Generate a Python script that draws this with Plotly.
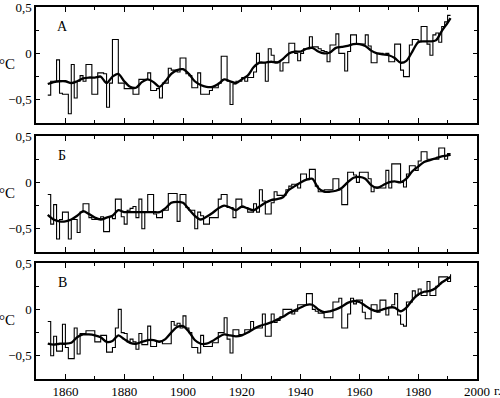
import plotly.graph_objects as go

years = list(range(1854, 1992))

annual_a = [
    -0.45, -0.30, -0.30, -0.07, -0.43, -0.44,
    -0.44, -0.65, -0.12, -0.48, -0.30, -0.24, -0.30, -0.12, -0.12, -0.44,
    -0.44, -0.21, -0.21, -0.22, -0.58, -0.32, 0.15, 0.15, -0.32, -0.32,
    -0.38, -0.38, -0.38, -0.44, -0.44, -0.28, -0.28, -0.28, -0.21, -0.40,
    -0.40, -0.38, -0.48, -0.32, -0.32, -0.16, -0.18, -0.18, -0.20, -0.05,
    -0.05, -0.22, -0.24, -0.37, -0.37, -0.21, -0.44, -0.44, -0.44, -0.40,
    -0.37, -0.37, -0.32, -0.03, -0.03, -0.30, -0.55, -0.33, -0.30, -0.30,
    -0.26, -0.30, -0.26, -0.26, -0.20, 0.00, -0.10, -0.10, -0.30, 0.05,
    -0.02, -0.09, -0.09, -0.19, -0.10, -0.10, 0.11, 0.11, 0.00, -0.08,
    0.00, 0.05, 0.05, 0.18, 0.07, 0.07, 0.05, 0.03, 0.02, -0.09,
    0.09, 0.09, 0.21, 0.00, 0.00, -0.19, 0.02, 0.20, 0.20, 0.10,
    0.10, 0.10, 0.20, 0.08, -0.10, -0.10, 0.00, 0.00, -0.01, 0.00,
    -0.09, -0.09, 0.10, 0.10, -0.18, -0.25, -0.25, 0.09, 0.15, 0.15,
    0.13, 0.29, 0.29, 0.10, -0.02, 0.20, 0.22, 0.12, 0.29, 0.34,
    0.41, 0.41,
]

annual_b = [
    -0.13, -0.45, -0.24, -0.61, -0.40, -0.32,
    -0.32, -0.61, -0.40, -0.40, -0.54, -0.32, -0.23, -0.23, -0.38, -0.40,
    -0.40, -0.40, -0.37, -0.53, -0.53, -0.37, -0.39, -0.18, -0.18, -0.37,
    -0.45, -0.30, -0.28, -0.26, -0.38, -0.18, -0.50, -0.32, -0.13, -0.13,
    -0.34, -0.38, -0.38, -0.30, -0.30, -0.12, -0.12, -0.12, -0.42, -0.13,
    -0.13, -0.27, -0.30, -0.30, -0.50, -0.32, -0.36, -0.45, -0.45, -0.38,
    -0.38, -0.38, -0.18, -0.13, -0.13, -0.27, -0.27, -0.38, -0.18, -0.18,
    -0.27, -0.27, -0.32, -0.32, -0.23, -0.32, -0.08, -0.20, -0.34, -0.34,
    -0.22, -0.10, -0.14, -0.14, -0.14, -0.08, -0.04, -0.02, -0.02, -0.06,
    0.09, 0.09, 0.03, 0.14, 0.14, -0.04, -0.10, -0.10, -0.08, -0.08,
    -0.08, 0.04, 0.04, -0.08, -0.24, -0.24, 0.11, 0.11, 0.08, 0.00,
    0.11, 0.11, 0.11, 0.04, -0.10, -0.05, -0.05, -0.06, -0.06, 0.13,
    -0.06, 0.20, 0.20, 0.20, 0.00, -0.05, 0.09, 0.18, 0.18, 0.13,
    0.23, 0.33, 0.33, 0.25, 0.25, 0.25, 0.25, 0.37, 0.37, 0.25,
    0.31, 0.31,
]

annual_c = [
    -0.13, -0.50, -0.29, -0.45, -0.45, -0.16,
    -0.41, -0.53, -0.53, -0.20, -0.48, -0.26, -0.26, -0.23, -0.23, -0.23,
    -0.35, -0.35, -0.28, -0.28, -0.46, -0.46, -0.41, -0.20, 0.00, -0.25,
    -0.26, -0.35, -0.32, -0.35, -0.43, -0.26, -0.38, -0.38, -0.18, -0.40,
    -0.40, -0.34, -0.34, -0.37, -0.37, -0.37, -0.13, -0.17, -0.15, -0.20,
    -0.07, -0.20, -0.25, -0.41, -0.41, -0.47, -0.28, -0.40, -0.40, -0.40,
    -0.36, -0.36, -0.25, -0.25, -0.09, -0.32, -0.47, -0.22, -0.22, -0.27,
    -0.27, -0.22, -0.22, -0.13, -0.20, -0.20, -0.20, -0.05, -0.29, -0.29,
    -0.05, -0.14, -0.12, -0.08, 0.00, 0.00, 0.00, -0.05, -0.02, 0.05,
    0.05, 0.05, 0.17, 0.17, 0.00, -0.02, -0.04, -0.04, -0.09, -0.09,
    -0.09, 0.08, 0.08, 0.12, -0.20, -0.20, -0.05, 0.12, 0.06, 0.10,
    0.10, -0.03, -0.10, -0.10, 0.05, 0.05, -0.03, 0.10, 0.10, -0.06,
    0.02, 0.05, 0.17, -0.06, -0.16, -0.18, 0.08, 0.08, 0.20, 0.15,
    0.22, 0.15, 0.15, 0.30, 0.15, 0.15, 0.25, 0.35, 0.35, 0.35,
    0.30, 0.38,
]

smooth_years = [1854, 1856, 1858, 1860, 1862, 1864, 1866, 1868, 1870, 1872,
                1874, 1876, 1878, 1880, 1882, 1884, 1886, 1888, 1890, 1892,
                1894, 1896, 1898, 1900, 1902, 1904, 1906, 1908, 1910, 1912,
                1914, 1916, 1918, 1920, 1922, 1924, 1926, 1928, 1930, 1932,
                1934, 1936, 1938, 1940, 1942, 1944, 1946, 1948, 1950, 1952,
                1954, 1956, 1958, 1960, 1962, 1964, 1966, 1968, 1970, 1972,
                1974, 1976, 1978, 1980, 1982, 1984, 1986, 1988, 1990, 1991]

smooth_a = [-0.33, -0.31, -0.30, -0.30, -0.32, -0.30, -0.27, -0.26, -0.26, -0.25,
            -0.32, -0.25, -0.22, -0.30, -0.36, -0.37, -0.31, -0.28, -0.31, -0.36,
            -0.30, -0.22, -0.18, -0.17, -0.22, -0.30, -0.34, -0.36, -0.36, -0.33,
            -0.28, -0.30, -0.32, -0.28, -0.24, -0.15, -0.10, -0.10, -0.09, -0.10,
            -0.06, 0.00, 0.02, 0.02, 0.05, 0.06, 0.02, 0.00, 0.01, 0.06,
            0.07, 0.08, 0.10, 0.10, 0.08, 0.03, 0.00, -0.01, -0.02, -0.05,
            -0.10, -0.08, 0.02, 0.12, 0.13, 0.13, 0.14, 0.24, 0.33, 0.38]

smooth_b = [-0.35, -0.40, -0.42, -0.42, -0.40, -0.36, -0.31, -0.34, -0.38, -0.40,
            -0.38, -0.36, -0.30, -0.32, -0.32, -0.32, -0.32, -0.32, -0.32, -0.32,
            -0.28, -0.22, -0.21, -0.22, -0.29, -0.36, -0.40, -0.37, -0.33, -0.28,
            -0.25, -0.27, -0.30, -0.26, -0.28, -0.30, -0.26, -0.22, -0.19, -0.18,
            -0.16, -0.08, -0.04, 0.00, 0.03, 0.04, -0.06, -0.10, -0.10, -0.09,
            -0.06, 0.00, 0.05, 0.06, 0.04, -0.03, -0.06, -0.03, 0.00, 0.01,
            0.00, 0.04, 0.12, 0.17, 0.22, 0.24, 0.26, 0.28, 0.29, 0.30]

smooth_c = [-0.37, -0.38, -0.37, -0.37, -0.36, -0.30, -0.27, -0.27, -0.28, -0.30,
            -0.35, -0.34, -0.28, -0.32, -0.36, -0.37, -0.35, -0.33, -0.33, -0.35,
            -0.32, -0.25, -0.19, -0.18, -0.24, -0.33, -0.37, -0.37, -0.34, -0.30,
            -0.27, -0.28, -0.29, -0.28, -0.25, -0.21, -0.18, -0.16, -0.14, -0.11,
            -0.08, -0.04, -0.01, 0.02, 0.05, 0.05, 0.00, -0.03, -0.02, 0.00,
            0.03, 0.07, 0.09, 0.08, 0.04, 0.00, -0.02, 0.00, 0.02, 0.02,
            -0.02, 0.02, 0.10, 0.16, 0.19, 0.20, 0.23, 0.29, 0.33, 0.35]

panel_letters = ["А", "Б", "В"]
x_tick_vals = [1860, 1880, 1900, 1920, 1940, 1960, 1980, 2000]
x_tick_text = ["1860", "1880", "1900", "1920", "1940", "1960", "1980", "2000"]
y_tick_vals = [-0.5, 0, 0.5]
y_tick_text = ["\u22120,5", "0", "0,5"]

SERIF = "Liberation Serif"
W, H = 500, 398
ML, MR, MT, MB = 36, 23, 7, 19
plot_h = H - MT - MB
panel_px = [(7, 123), (136, 252), (263, 379)]

fig = go.Figure()
annuals = [annual_a, annual_b, annual_c]
smooths = [smooth_a, smooth_b, smooth_c]

for i in range(3):
    xa = "x" if i == 0 else f"x{i+1}"
    ya = "y" if i == 0 else f"y{i+1}"
    fig.add_trace(go.Scatter(x=years, y=annuals[i], mode="lines",
                             line=dict(color="black", width=1.1, shape="hv"),
                             xaxis=xa, yaxis=ya, showlegend=False, hoverinfo="skip"))
    fig.add_trace(go.Scatter(x=smooth_years, y=smooths[i], mode="lines",
                             line=dict(color="black", width=2.3, shape="spline", smoothing=0.8),
                             xaxis=xa, yaxis=ya, showlegend=False, hoverinfo="skip"))

layout = dict(width=W, height=H, margin=dict(l=ML, r=MR, t=MT, b=MB),
              paper_bgcolor="white", plot_bgcolor="white",
              font=dict(family=SERIF, size=13, color="black"),
              showlegend=False)

for i, (top, bot) in enumerate(panel_px):
    d0 = (H - MB - bot) / plot_h
    d1 = (H - MB - top) / plot_h
    xkey = "xaxis" if i == 0 else f"xaxis{i+1}"
    ykey = "yaxis" if i == 0 else f"yaxis{i+1}"
    ya = "y" if i == 0 else f"y{i+1}"
    xa = "x" if i == 0 else f"x{i+1}"
    layout[xkey] = dict(domain=[0, 1], anchor=ya, range=[1850, 2000],
                        tickvals=x_tick_vals, ticktext=x_tick_text,
                        showticklabels=(i == 2), ticks="inside", ticklen=5,
                        tickwidth=1, tickcolor="black",
                        minor=dict(dtick=10, tick0=1850, ticks="inside", ticklen=3,
                                   tickcolor="black", tickwidth=1),
                        showline=True, linecolor="black", linewidth=1.6, mirror="ticks",
                        showgrid=False, zeroline=False, automargin=False,
                        ticklabeloverflow="allow",
                        tickfont=dict(family=SERIF, size=13))
    layout[ykey] = dict(domain=[d0, d1], anchor=xa, range=[-0.75, 0.5],
                        tickvals=y_tick_vals, ticktext=y_tick_text,
                        ticks="inside", ticklen=4, tickwidth=1, tickcolor="black",
                        minor=dict(dtick=0.25, tick0=0, ticks="inside", ticklen=3,
                                   tickcolor="black", tickwidth=1),
                        showline=True, linecolor="black", linewidth=1.6, mirror="ticks",
                        showgrid=False, zeroline=False, automargin=False,
                        ticklabeloverflow="allow",
                        tickfont=dict(family=SERIF, size=13))

fig.update_layout(**layout)

for i in range(3):
    xa = "x" if i == 0 else f"x{i+1}"
    ya = "y" if i == 0 else f"y{i+1}"
    fig.add_annotation(x=1859, y=0.29, xref=xa, yref=ya, text=panel_letters[i],
                       showarrow=False, font=dict(family=SERIF, size=14))
    fig.add_annotation(x=-ML / (W - ML - MR), y=-0.11, xref="paper", yref=ya,
                       text="°C", xanchor="left", xshift=-3, showarrow=False,
                       font=dict(family=SERIF, size=15))

fig.add_annotation(x=2000, y=0, xref="x3", yref="paper", text="г.",
                   xanchor="left", yanchor="top", xshift=15, yshift=-2,
                   showarrow=False, font=dict(family=SERIF, size=13))

fig.write_html("out.html",
               config={"displayModeBar": False, "staticPlot": True},
               post_script="document.body.style.margin='0';document.body.style.overflow='hidden';")
